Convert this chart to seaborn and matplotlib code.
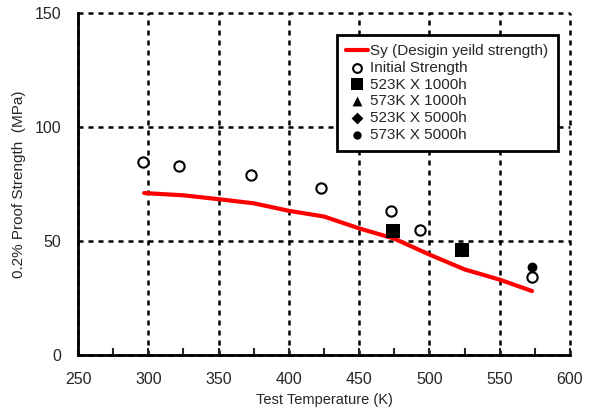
import seaborn as sns
import matplotlib.pyplot as plt
import pandas as pd
from matplotlib.ticker import MultipleLocator

# design yield strength curve
sy_temp = [297, 325, 350, 375, 400, 425, 450, 475, 500, 525, 550, 573]
sy_val = [71, 70, 68.3, 66.5, 63.2, 60.7, 55.5, 51, 44, 37.5, 33, 28]

# measured points
init_temp = [296, 322, 373, 423, 473, 493, 573]
init_val = [84.5, 82.8, 79, 73, 63, 55, 34]
a523_1000_temp = [474, 523]
a523_1000_val = [54.5, 46]
a573_1000_temp = [573]
a573_1000_val = [36.5]
a523_5000_temp = [523]
a523_5000_val = [46]
a573_5000_temp = [573]
a573_5000_val = [38.5]

sns.set_style("white")
plt.rcParams['font.family'] = ['Liberation Sans', 'DejaVu Sans']

fig = plt.figure(figsize=(5.91, 4.18), dpi=100)
ax = fig.add_axes([0.132, 0.151, 0.8325, 0.818])

sns.lineplot(x=sy_temp, y=sy_val, color="red", linewidth=3,
             label="Sy (Desigin yeild strength)", ax=ax, zorder=3)
sns.scatterplot(x=init_temp, y=init_val, marker="o", s=55, facecolor="white",
                edgecolor="black", linewidth=1.5, label="Initial Strength", ax=ax, zorder=4)
sns.scatterplot(x=a523_1000_temp, y=a523_1000_val, marker="s", s=110, color="black",
                linewidth=0, label="523K X 1000h", ax=ax, zorder=4)
sns.scatterplot(x=a573_1000_temp, y=a573_1000_val, marker="^", s=70, color="black",
                linewidth=0, label="573K X 1000h", ax=ax, zorder=3.5)
sns.scatterplot(x=a523_5000_temp, y=a523_5000_val, marker="D", s=50, color="black",
                linewidth=0, label="523K X 5000h", ax=ax, zorder=3.5)
sns.scatterplot(x=a573_5000_temp, y=a573_5000_val, marker="o", s=50, color="black",
                linewidth=0, label="573K X 5000h", ax=ax, zorder=3.5)

ax.set_xlim(250, 600)
ax.set_ylim(0, 150)
ax.xaxis.set_major_locator(MultipleLocator(50))
ax.xaxis.set_minor_locator(MultipleLocator(25))
ax.yaxis.set_major_locator(MultipleLocator(50))
ax.grid(True, which="major", color="black", linestyle=(0, (2, 2)), linewidth=1.8)
for gl in ax.get_xgridlines() + ax.get_ygridlines():
    gl.set_clip_on(False)
ax.tick_params(axis="x", which="both", direction="in", bottom=True, length=5,
               width=1.5, labelsize=11.5, pad=12)
ax.tick_params(axis="y", direction="in", left=True, length=0, labelsize=11.5, pad=12)
for side in ["top", "right"]:
    ax.spines[side].set_visible(False)
for side in ["left", "bottom"]:
    ax.spines[side].set_color("black")
    ax.spines[side].set_linewidth(2)
    ax.spines[side].set_zorder(5)

ax.set_xlabel("Test Temperature (K)", fontsize=10.5, labelpad=5)
ax.set_ylabel("0.2% Proof Strength  (MPa)", fontsize=11, labelpad=6)

leg = ax.legend(loc="upper right", bbox_to_anchor=(0.9746, 0.936), borderaxespad=0,
                fontsize=11, frameon=True, fancybox=False, handlelength=1.44,
                handletextpad=0.15, labelspacing=0.18, borderpad=0.6,
                markerscale=0.85)
leg.get_frame().set_edgecolor("black")
leg.get_frame().set_linewidth(2)
leg.get_frame().set_alpha(1)
leg.set_zorder(6)

plt.savefig("out.png", dpi=100)
